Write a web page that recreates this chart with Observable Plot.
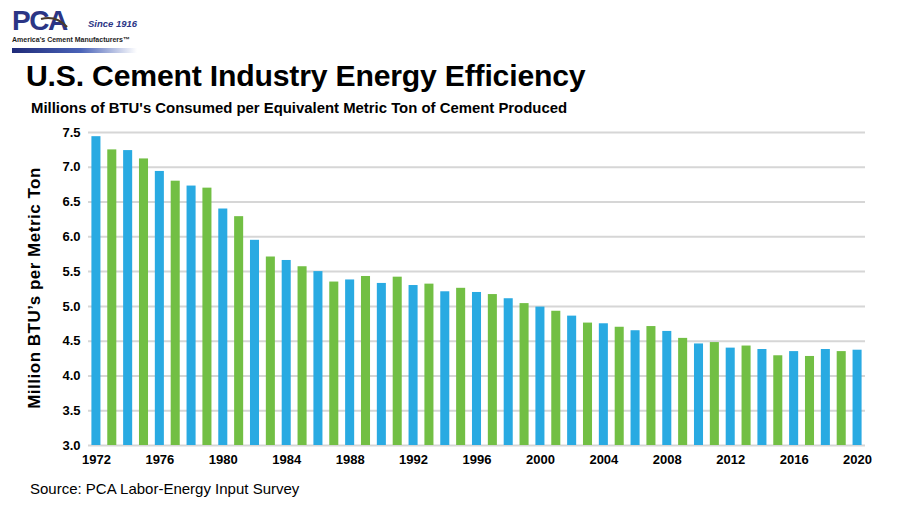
<!DOCTYPE html>
<html>
<head>
<meta charset="utf-8">
<script src="https://cdn.jsdelivr.net/npm/d3@7"></script>
<script src="https://cdn.jsdelivr.net/npm/@observablehq/plot@0.6"></script>
<style>
  html, body { margin: 0; padding: 0; background: #fff; }
  #wrap { position: relative; width: 900px; height: 506px; overflow: hidden; font-family: "Liberation Sans", Arial, sans-serif; }
  .abs { position: absolute; white-space: nowrap; }
  #chart { position: absolute; left: 0; top: 120px; }
</style>
</head>
<body>
<div id="wrap">
  <!-- logo -->
  <svg class="abs" style="left:0;top:0" width="150" height="56">
    <defs>
      <linearGradient id="lg" x1="0" x2="1" y1="0" y2="0">
        <stop offset="0" stop-color="#1f2a78"/>
        <stop offset="0.55" stop-color="#4a63b8"/>
        <stop offset="1" stop-color="#ffffff"/>
      </linearGradient>
    </defs>
    <text x="12" y="30" font-family="Liberation Sans, Arial, sans-serif" font-size="28" font-weight="bold" fill="#2b3585" letter-spacing="-1.5">PCA</text>
    <path d="M41 19 Q56 15 67 27" fill="none" stroke="#4a3a2a" stroke-width="2.2"/>
    <text x="88" y="27" font-family="Liberation Sans, Arial, sans-serif" font-size="9.5" font-weight="bold" font-style="italic" fill="#2b3585">Since 1916</text>
    <text x="12" y="42" font-family="Liberation Sans, Arial, sans-serif" font-size="7" font-weight="bold" fill="#222">America's Cement Manufacturers™</text>
    <rect x="12" y="48" width="125" height="5" fill="url(#lg)"/>
  </svg>

  <div class="abs" id="title" style="left:26px;top:59px;font-size:30.2px;font-weight:bold;color:#000;letter-spacing:-0.2px;">U.S. Cement Industry Energy Efficiency</div>
  <div class="abs" id="subtitle" style="left:31px;top:100px;font-size:14.9px;font-weight:bold;color:#000;">Millions of BTU's Consumed per Equivalent Metric Ton of Cement Produced</div>
  <div class="abs" id="ylabel" style="left:35px;top:288px;font-size:17px;font-weight:bold;color:#000;letter-spacing:0.5px;transform:translate(-50%,-50%) rotate(-90deg);">Million BTU’s per Metric Ton</div>
  <div id="chart"></div>
  <div class="abs" id="source" style="left:30px;top:480px;font-size:15px;color:#000;">Source: PCA Labor-Energy Input Survey</div>
</div>
<script>
const years = [1972,1973,1974,1975,1976,1977,1978,1979,1980,1981,1982,1983,1984,1985,1986,1987,1988,1989,1990,1991,1992,1993,1994,1995,1996,1997,1998,1999,2000,2001,2002,2003,2004,2005,2006,2007,2008,2009,2010,2011,2012,2013,2014,2015,2016,2017,2018,2019,2020];
const values = [7.44,7.25,7.24,7.12,6.94,6.80,6.73,6.70,6.40,6.29,5.95,5.71,5.66,5.57,5.50,5.35,5.38,5.43,5.33,5.42,5.30,5.32,5.21,5.26,5.20,5.17,5.11,5.04,4.99,4.93,4.86,4.76,4.75,4.70,4.65,4.71,4.64,4.54,4.46,4.48,4.40,4.43,4.38,4.29,4.35,4.28,4.38,4.35,4.37];
const xTickLabels = [1972,1976,1980,1984,1988,1992,1996,2000,2004,2008,2012,2016,2020];
const yTickValues = [3.0,3.5,4.0,4.5,5.0,5.5,6.0,6.5,7.0,7.5];

const blue = "#29aae2";
const green = "#72bf44";
const data = years.map((year, i) => ({year, value: values[i]}));

const chart = Plot.plot({
  width: 900,
  height: 360,
  marginLeft: 88,
  marginRight: 35,
  marginTop: 12,
  marginBottom: 35,
  style: {fontFamily: "Liberation Sans, Arial, sans-serif", fontSize: "13px", fontWeight: "bold", color: "#000", background: "transparent"},
  x: {type: "band", domain: years, paddingInner: 0.43, paddingOuter: 0.215, axis: null},
  y: {domain: [3, 7.5], axis: null},
  marks: [
    Plot.ruleY(yTickValues, {stroke: "#d6d6d6", strokeWidth: 2}),
    Plot.barY(data, {x: "year", y1: 3, y2: "value", fill: d => (d.year % 2 === 0 ? blue : green)}),
    Plot.axisX({ticks: xTickLabels, tickSize: 0, tickPadding: 9, label: null, tickFormat: d => String(d), fontSize: 13, fontWeight: "bold", fill: "#000"}),
    Plot.axisY({ticks: yTickValues, tickSize: 0, tickPadding: 8, label: null, tickFormat: d3.format(".1f"), fontSize: 13, fontWeight: "bold", fill: "#000"})
  ]
});
document.getElementById("chart").appendChild(chart);
</script>
</body>
</html>
